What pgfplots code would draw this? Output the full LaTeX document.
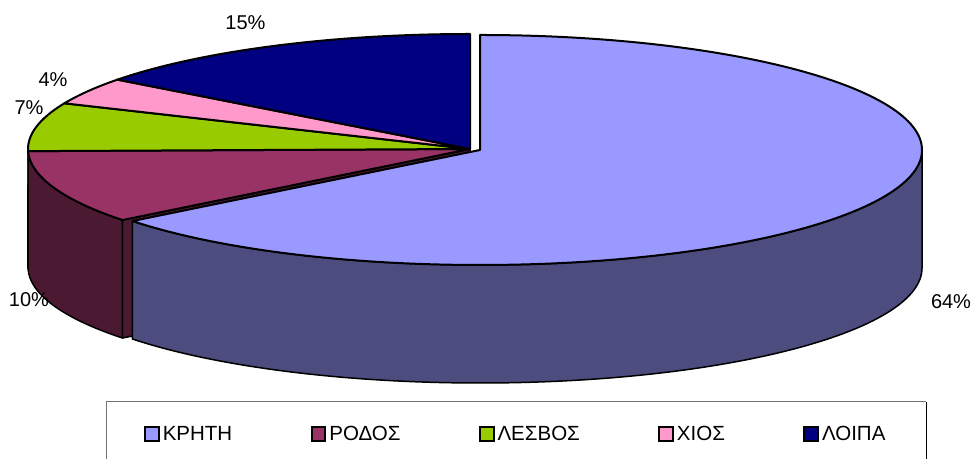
\documentclass[border=0pt]{standalone}
\usepackage{fontspec}
\setmainfont{Liberation Sans}
\usepackage{pgfplots}
\usepackage{pgfplotstable}
\pgfplotsset{compat=1.18}
\definecolor{cK}{HTML}{9999FF}\definecolor{cKs}{HTML}{4C4C7F}
\definecolor{cR}{HTML}{993366}\definecolor{cRs}{HTML}{4C1933}
\definecolor{cL}{HTML}{99CC00}\definecolor{cLs}{HTML}{4C6600}
\definecolor{cX}{HTML}{FF99CC}
\definecolor{cO}{HTML}{000080}

% shares (per cent): KRHTH, RODOS, LESVOS, XIOS, LOIPA
\pgfplotstableread{
share
64.4
10.3
6.8
3.8
14.7
}\piedata

\begin{document}
\begin{tikzpicture}
\pgfplotstablegetelem{0}{share}\of\piedata\let\vA\pgfplotsretval
\pgfplotstablegetelem{1}{share}\of\piedata\let\vB\pgfplotsretval
\pgfplotstablegetelem{2}{share}\of\piedata\let\vC\pgfplotsretval
\pgfplotstablegetelem{3}{share}\of\piedata\let\vD\pgfplotsretval
\pgfplotstablegetelem{4}{share}\of\piedata\let\vE\pgfplotsretval
\pgfmathsetmacro\aA{90-3.6*\vA}
\pgfmathsetmacro\aB{\aA-3.6*\vB}
\pgfmathsetmacro\aC{\aB-3.6*\vC}
\pgfmathsetmacro\aD{\aC-3.6*\vD}
\pgfmathsetmacro\aE{\aD-3.6*\vE}
\begin{axis}[
  width=976bp, height=460bp, scale only axis,
  xmin=0, xmax=976, ymin=0, ymax=460,
  hide axis, clip=false,
  legend columns=5,
  legend style={at={(axis description cs:0.14754,0.05652)}, anchor=west,
    draw=none, fill=none, inner sep=0pt,
    font=\fontsize{20.5bp}{24bp}\selectfont,
    nodes={inner sep=3bp},
    /tikz/every even column/.append style={column sep=75.5bp}},
]
\addlegendimage{legend image code/.code={\draw[line width=2bp, fill=cK] (0bp,-6.8bp) rectangle (13.6bp,6.8bp);}}
\addlegendentry{ΚΡΗΤΗ}
\addlegendimage{legend image code/.code={\draw[line width=2bp, fill=cR] (0bp,-6.8bp) rectangle (13.6bp,6.8bp);}}
\addlegendentry{ΡΟΔΟΣ}
\addlegendimage{legend image code/.code={\draw[line width=2bp, fill=cL] (0bp,-6.8bp) rectangle (13.6bp,6.8bp);}}
\addlegendentry{ΛΕΣΒΟΣ}
\addlegendimage{legend image code/.code={\draw[line width=2bp, fill=cX] (0bp,-6.8bp) rectangle (13.6bp,6.8bp);}}
\addlegendentry{ΧΙΟΣ}
\addlegendimage{legend image code/.code={\draw[line width=2bp, fill=cO] (0bp,-6.8bp) rectangle (13.6bp,6.8bp);}}
\addlegendentry{ΛΟΙΠΑ}

\path (axis cs:0,0) rectangle (axis cs:976,460);
\coordinate (C) at (axis cs:470,311);
\coordinate (Cb) at (axis cs:470,193);
\coordinate (K) at (axis cs:480,310);

% RODOS radial face (visible because KRHTH is pulled out)
\filldraw[fill=cRs, draw=black, line width=1.5bp, line join=round]
  (C) -- ++(\aA:442 and 115) -- ++(0,-118) -- (Cb) -- cycle;
% RODOS outer wall
\filldraw[fill=cRs, draw=black, line width=1.5bp, line join=round]
  (C) ++(\aB:442 and 115) arc[start angle=\aB, end angle=\aA, x radius=442, y radius=115]
  -- ++(0,-118) arc[start angle=\aA, end angle=\aB, x radius=442, y radius=115] -- cycle;
% LESVOS wall (tiny visible part)
\filldraw[fill=cLs, draw=black, line width=1.5bp, line join=round]
  (C) ++(-180:442 and 115) arc[start angle=-180, end angle=\aB, x radius=442, y radius=115]
  -- ++(0,-118) arc[start angle=\aB, end angle=-180, x radius=442, y radius=115] -- cycle;

% tops of the slices in place
\filldraw[fill=cR, draw=black, line width=2bp, line join=round]
  (C) -- ++(\aA:442 and 115) arc[start angle=\aA, end angle=\aB, x radius=442, y radius=115] -- cycle;
\filldraw[fill=cL, draw=black, line width=2bp, line join=round]
  (C) -- ++(\aB:442 and 115) arc[start angle=\aB, end angle=\aC, x radius=442, y radius=115] -- cycle;
\filldraw[fill=cX, draw=black, line width=2bp, line join=round]
  (C) -- ++(\aC:442 and 115) arc[start angle=\aC, end angle=\aD, x radius=442, y radius=115] -- cycle;
\filldraw[fill=cO, draw=black, line width=2bp, line join=round]
  (C) -- ++(\aD:442 and 115) arc[start angle=\aD, end angle=\aE, x radius=442, y radius=115] -- cycle;

% KRHTH (pulled out): wall and top
\filldraw[fill=cKs, draw=black, line width=1.5bp, line join=round]
  (K) ++(\aA:442 and 115) arc[start angle=\aA, end angle=0, x radius=442, y radius=115]
  -- ++(0,-118) arc[start angle=0, end angle=\aA, x radius=442, y radius=115] -- cycle;
\filldraw[fill=cK, draw=black, line width=2bp, line join=round]
  (K) -- ++(90:442 and 115) arc[start angle=90, end angle=\aA, x radius=442, y radius=115] -- cycle;

% percentage labels
\node[font=\fontsize{20bp}{24bp}\selectfont] at (axis cs:245.5,437.5) {15\%};
\node[font=\fontsize{20bp}{24bp}\selectfont] at (axis cs:53,380) {4\%};
\node[font=\fontsize{20bp}{24bp}\selectfont] at (axis cs:29,352) {7\%};
\node[font=\fontsize{20bp}{24bp}\selectfont] at (axis cs:29,160) {10\%};
\node[font=\fontsize{20bp}{24bp}\selectfont] at (axis cs:951,158) {64\%};

% legend frame
\draw[black!55, line width=1bp] (axis cs:106,1) -- (axis cs:106,58) -- (axis cs:926,58);
\draw[black, line width=1bp] (axis cs:926,58) -- (axis cs:926,1);
\end{axis}
\end{tikzpicture}
\end{document}
